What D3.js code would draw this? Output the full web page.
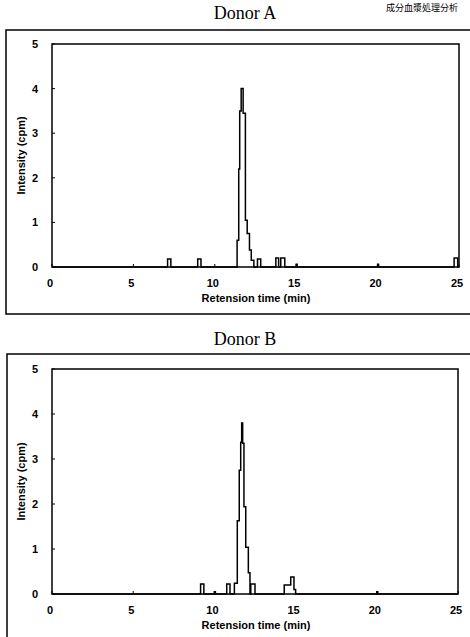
<!DOCTYPE html>
<html>
<head>
<meta charset="UTF-8">
<title>Donor A / Donor B</title>
<style>
  body { margin: 0; background: #fff; }
  text { font-family: "Liberation Sans", Arial, sans-serif; fill: #000; }
  .tick-label { font-size: 11px; font-weight: bold; }
  .axis-title { font-size: 11px; font-weight: bold; }
  .panel-title { font-family: "Liberation Serif", "Times New Roman", serif; font-size: 18px; }
  .trace { fill: none; stroke: #000; stroke-width: 1.5px; }
  .frame { fill: none; stroke: #000; stroke-width: 1.5px; }
</style>
<script src="https://cdn.jsdelivr.net/npm/d3@7"></script>
</head>
<body>
<svg width="470" height="637"></svg>
<script>
// step data: value holds from t[i] until t[i+1]
var timesA = [0, 7.1, 7.3, 8.95, 9.15, 11.37, 11.47, 11.53, 11.62, 11.74, 11.88, 11.99, 12.13, 12.24, 12.4,
              12.62, 12.82, 13.75, 13.92, 14.05, 14.3, 15.0, 15.06, 20.0, 20.06, 24.7, 24.92, 25];
var valuesA = [0, 0.18, 0, 0.18, 0, 0.6, 2.2, 3.5, 4.0, 3.45, 1.05, 0.75, 0.38, 0.15, 0,
               0.18, 0, 0.2, 0, 0.2, 0, 0.06, 0, 0.06, 0, 0.2, 0, 0];

var timesB = [0, 9.15, 9.35, 10.0, 10.06, 10.76, 10.96, 11.23, 11.41, 11.53, 11.62, 11.68, 11.74, 11.82, 11.93,
              12.09, 12.19, 12.24, 12.5, 14.3, 14.5, 14.7, 14.9, 15.0, 15.06, 20.0, 20.06, 25];
var valuesB = [0, 0.22, 0, 0.05, 0, 0.22, 0, 0.24, 1.63, 2.75, 3.37, 3.8, 3.35, 1.94, 1.04,
               0.47, 0, 0.22, 0, 0.2, 0.2, 0.38, 0.1, 0, 0, 0.05, 0, 0];

var xTicks = [0, 5, 10, 15, 20, 25];
var yTicks = [0, 1, 2, 3, 4, 5];

var svg = d3.select("svg");

// small caption at the top right
svg.append("text")
    .attr("x", 458).attr("y", 11)
    .attr("text-anchor", "end")
    .style("font-family", "'Noto Sans CJK JP', sans-serif")
    .style("font-size", "9px")
    .text("成分血漿処理分析");

var panels = [
    {title: "Donor A", times: timesA, values: valuesA, box: [6, 30, 480, 314], plot: [52, 44, 459, 267], titleY: 19},
    {title: "Donor B", times: timesB, values: valuesB, box: [7, 354, 480, 660], plot: [52, 369, 458, 594], titleY: 345}
];

panels.forEach(function(p) {
    var x = d3.scaleLinear().domain([0, 25]).range([p.plot[0], p.plot[2]]);
    var y = d3.scaleLinear().domain([0, 5]).range([p.plot[3], p.plot[1]]);

    // outer frame
    svg.append("rect").attr("class", "frame")
        .attr("x", p.box[0]).attr("y", p.box[1])
        .attr("width", p.box[2] - p.box[0]).attr("height", p.box[3] - p.box[1]);

    svg.append("text").attr("class", "panel-title")
        .attr("x", 245).attr("y", p.titleY)
        .attr("text-anchor", "middle")
        .text(p.title);

    // plot frame
    svg.append("rect").attr("class", "frame")
        .attr("x", x(0)).attr("y", y(5))
        .attr("width", x(25) - x(0)).attr("height", y(0) - y(5));

    // inward ticks
    var g = svg.append("g");
    g.selectAll(".yt").data(yTicks).enter().append("line")
        .attr("x1", x(0)).attr("x2", x(0) + 3)
        .attr("y1", d => y(d)).attr("y2", d => y(d))
        .attr("stroke", "#000").attr("stroke-width", 1);
    g.selectAll(".xt").data(xTicks).enter().append("line")
        .attr("x1", d => x(d)).attr("x2", d => x(d))
        .attr("y1", y(0)).attr("y2", y(0) - 3)
        .attr("stroke", "#000").attr("stroke-width", 1);

    g.selectAll(".yl").data(yTicks).enter().append("text")
        .attr("class", "tick-label")
        .attr("x", 38).attr("y", d => y(d) + 4)
        .attr("text-anchor", "end")
        .text(d => d);
    g.selectAll(".xl").data(xTicks).enter().append("text")
        .attr("class", "tick-label")
        .attr("x", d => x(d) - 2).attr("y", y(0) + 20)
        .attr("text-anchor", "middle")
        .text(d => d);

    svg.append("text").attr("class", "axis-title")
        .attr("x", 256).attr("y", y(0) + 35)
        .attr("text-anchor", "middle")
        .text("Retension time (min)");

    var cy = (y(0) + y(5)) / 2;
    svg.append("text").attr("class", "axis-title")
        .attr("transform", "translate(25," + cy + ") rotate(-90)")
        .attr("text-anchor", "middle")
        .text("Intensity (cpm)");

    var line = d3.line()
        .x((d, i) => x(p.times[i]))
        .y(d => y(d))
        .curve(d3.curveStepAfter);

    svg.append("path").attr("class", "trace")
        .datum(p.values)
        .attr("d", line);
});
</script>
</body>
</html>
